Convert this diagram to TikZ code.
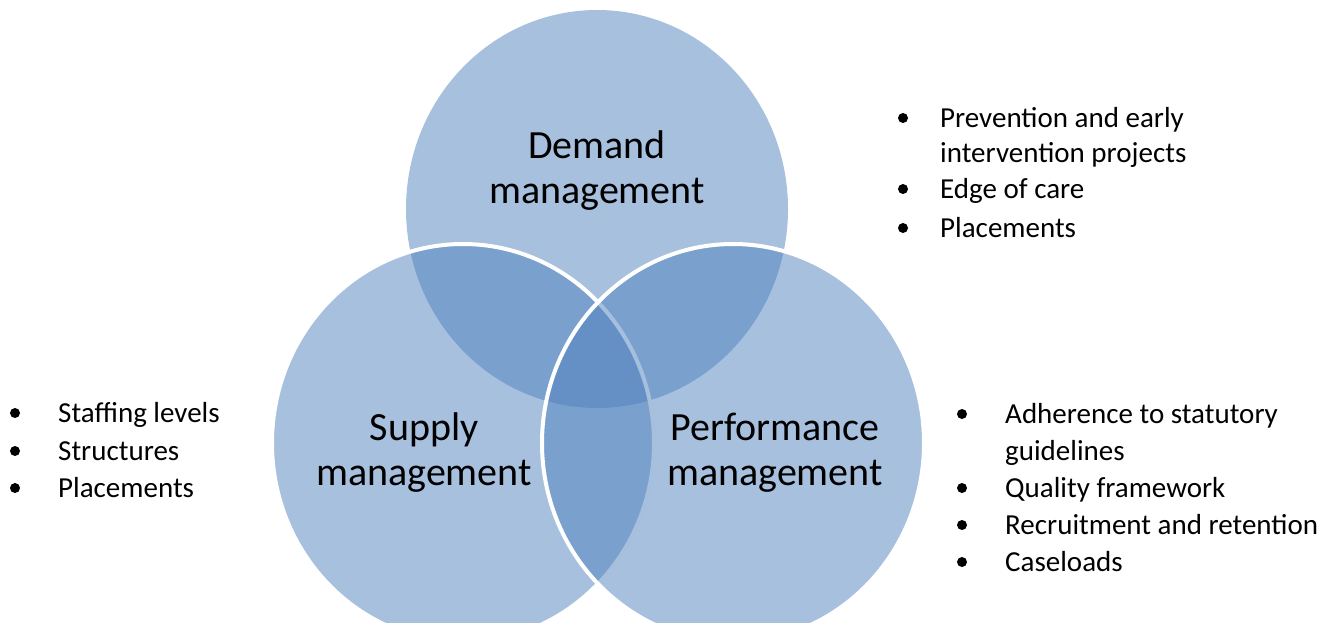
\documentclass[tikz,border=0pt]{standalone}
\usepackage{fontspec}
\setmainfont{Carlito}
\usepackage{tikz}
\usetikzlibrary{shapes.geometric}
\definecolor{vennblue}{RGB}{79,129,189}

\begin{document}
\begin{tikzpicture}[
            x = 1pt, y = -1pt, % work in pixels, y going down
            set/.style = {shape=ellipse, minimum width=382pt, minimum height=398pt,
                          inner sep=0pt, fill=vennblue, fill opacity=0.5}, % the three sets
            rim/.style = {draw=white, line width=4pt}, % white edge of a set
            title/.style = {align=center, font=\fontsize{40}{45}\selectfont},
            item/.style = {anchor=base west, align=left, inner sep=0pt,
                           font=\fontsize{29}{35}\selectfont}, % base = last line
            dot/.style = {shape=circle, fill=black, inner sep=0pt, minimum size=10pt}
        ]
\useasboundingbox (0,0) rectangle (1337,622);

% the sets
\node[set] (D) at (597,209) {};
\node[set,rim] (S) at (463,443) {};
\node[set,rim] (P) at (733,443) {};

% their names
\node[title] (Dname) at (597,171) {Demand\\management};
\node[title] (Sname) at (424,453) {Supply\\management};
\node[title] (Pname) at (775,453) {Performance\\management};

% demand list
\node[dot] (d1) at (903,118) {};
\node[item] (dt1) at (940,162) {Prevention and early\\intervention projects};
\node[dot] (d2) at (903,189) {};
\node[item] (dt2) at (940,198) {Edge of care};
\node[dot] (d3) at (903,228) {};
\node[item] (dt3) at (940,237) {Placements};

% supply list
\node[dot] (s1) at (15,413) {};
\node[item] (st1) at (58,422) {Staffing levels};
\node[dot] (s2) at (15,451) {};
\node[item] (st2) at (58,460) {Structures};
\node[dot] (s3) at (15,488) {};
\node[item] (st3) at (58,497) {Placements};

% performance list
\node[dot] (p1) at (962,414) {};
\node[item,font=\fontsize{29}{37}\selectfont] (pt1) at (1005,460) {Adherence to statutory\\guidelines};
\node[dot] (p2) at (962,488) {};
\node[item] (pt2) at (1005,497) {Quality framework};
\node[dot] (p3) at (962,525) {};
\node[item] (pt3) at (1005,534) {Recruitment and retention};
\node[dot] (p4) at (962,562) {};
\node[item] (pt4) at (1005,571) {Caseloads};

\end{tikzpicture}
\end{document}
